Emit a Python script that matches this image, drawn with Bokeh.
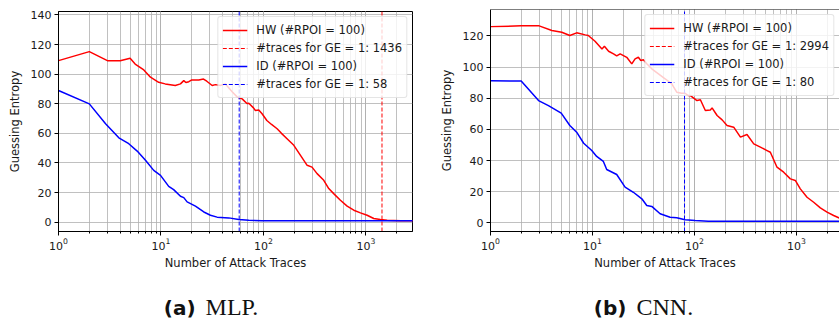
from bokeh.plotting import figure
from bokeh.models import (Range1d, Span, Legend, LegendItem, Div,
                          SingleIntervalTicker, LogTicker)
from bokeh.layouts import row, column
from bokeh.embed import file_html
from bokeh.resources import INLINE

# ---------------- data ----------------
# (a) MLP
mlp_hw_x = [1, 2, 3, 4, 5, 5.6, 6.8, 7.9, 9.5, 11, 13.8, 15.5, 16.7, 17.5, 18.7, 20,
            23.4, 26, 28, 31.6, 34, 38, 42.6, 49.5, 55, 58, 62, 69, 72, 80, 83.5, 90,
            97, 108, 120, 136, 150, 170, 198, 230, 267, 298, 334, 388, 434, 485, 564,
            656, 762, 885, 1028, 1193, 1384, 1611, 2173, 3000]
mlp_hw_y = [109.1, 115.2, 109.1, 109.1, 110.7, 106.8, 102.8, 97.9, 94.5, 93.4, 92.3,
            93.4, 95.6, 94.3, 94.9, 96.1, 96.1, 96.7, 95.2, 92.3, 92.9, 92.3, 93.4,
            88.1, 84.8, 84.0, 83.3, 80.2, 80.3, 77.2, 75.4, 75.8, 73.2, 68.7, 66.0,
            63.1, 60.0, 56.4, 51.9, 45.1, 38.4, 37.2, 32.8, 28.3, 22.7, 19.3, 14.8,
            10.8, 8.1, 6.3, 4.7, 2.5, 1.8, 1.3, 1.0, 1.0]
mlp_id_x = [1, 2, 2.88, 3.88, 4.85, 5.86, 7.06, 8.5, 9.9, 11.9, 13.3, 15.5, 16.7, 18,
            21.7, 26.2, 30.4, 35.3, 45.9, 57.4, 72, 97, 200, 3000]
mlp_id_y = [88.9, 79.9, 66.5, 57.0, 53.0, 48.0, 41.8, 35.0, 31.6, 24.2, 22.0, 17.5,
            16.6, 13.7, 10.8, 6.9, 4.7, 3.4, 2.9, 1.8, 1.3, 1.0, 1.0, 1.0]
mlp_thr_hw = 1436
mlp_thr_id = 58

# (b) CNN
cnn_hw_x = [1, 2, 3, 4, 5, 6, 7, 8.5, 9.1, 10.6, 12.4, 13.1, 14.4, 16.1, 17.3, 18.7,
            21.7, 24.3, 26.2, 28.2, 29.8, 31.6, 34.1, 38.2, 44.4, 51.6, 60, 67.1, 75,
            81, 87.3, 91.4, 106, 114.5, 128, 143.5, 149, 167, 187, 209, 243, 283, 328,
            382, 444, 516, 556, 646, 751, 874, 977, 1094, 1273, 1479, 1719, 2000,
            2323, 2603, 2994]
cnn_hw_y = [126.0, 126.5, 126.5, 123.5, 122.4, 120.3, 122.0, 120.7, 120.3, 116.6,
            111.7, 113.4, 110.2, 108.5, 107.2, 108.5, 106.3, 102.1, 105.3, 106.3,
            104.2, 104.7, 102.1, 98.9, 95.7, 92.5, 89.2, 83.9, 83.2, 83.2, 81.7, 81.7,
            78.5, 79.0, 72.1, 72.5, 73.8, 68.9, 66.1, 62.5, 61.4, 55.0, 56.7, 50.7,
            48.6, 46.4, 45.3, 35.7, 32.5, 28.2, 27.2, 21.8, 16.4, 13.2, 9.6, 6.8,
            4.7, 3.2, 1.0]
cnn_id_x = [1, 2, 2.96, 3.7, 4.94, 6.0, 7.0, 8.2, 9.85, 11, 12.8, 13.8, 17.3, 20.9,
            25.2, 30.5, 34.1, 38.2, 46.1, 57.8, 67.1, 81, 101.6, 137, 3000]
cnn_id_y = [91.3, 91.0, 78.5, 75.3, 70.4, 62.5, 58.2, 51.1, 46.4, 42.6, 39.4, 34.2,
            31.0, 22.9, 19.6, 15.4, 11.1, 10.5, 5.8, 3.6, 3.2, 1.9, 1.5, 1.0, 1.0]
cnn_thr_hw = 2994
cnn_thr_id = 80

hw_label = "HW (#RPOI = 100)"
id_label = "ID (#RPOI = 100)"
thr_label = "#traces for GE = 1: {}"
x_label = "Number of Attack Traces"
y_label = "Guessing Entropy"
captions = [("(a)", "MLP."), ("(b)", "CNN.")]

RED = "#ff0000"
BLUE = "#0000ff"
GRID = "#b0b0b0"
FONT = "DejaVu Sans"


def panel(hw_x, hw_y, id_x, id_y, thr_hw, thr_id, x_end, y_rng, width,
          b_left, b_right, b_top, outline=True):
    p = figure(width=width, height=272, x_axis_type="log",
               x_range=Range1d(1, x_end), y_range=Range1d(*y_rng),
               output_backend="svg", toolbar_location=None,
               min_border_left=b_left, min_border_right=b_right,
               min_border_top=b_top, min_border_bottom=41)
    p.background_fill_color = "white"
    p.outline_line_color = "black" if outline else None
    p.outline_line_width = 1

    # axes
    p.xaxis.ticker = LogTicker(num_minor_ticks=10)
    p.yaxis.ticker = SingleIntervalTicker(interval=20, num_minor_ticks=0)
    p.xaxis.axis_label = x_label
    p.yaxis.axis_label = y_label
    for ax in (p.xaxis[0], p.yaxis[0]):
        ax.axis_line_color = "black"
        ax.axis_line_width = 1
        ax.major_tick_out = 4
        ax.major_tick_in = 0
        ax.minor_tick_out = 2
        ax.minor_tick_in = 0
        ax.major_tick_line_color = "black"
        ax.minor_tick_line_color = "black"
        ax.major_label_text_font = FONT
        ax.major_label_text_font_size = "11px"
        ax.major_label_text_color = "#1a1a1a"
        ax.axis_label_text_font = FONT
        ax.axis_label_text_font_size = "11.5px"
        ax.axis_label_text_font_style = "normal"
        ax.axis_label_text_color = "#1a1a1a"
    p.yaxis.minor_tick_line_color = None
    p.xaxis.major_label_standoff = 2
    p.xaxis.axis_label_standoff = 3
    p.yaxis.major_label_standoff = 3
    p.yaxis.axis_label_standoff = 6

    # grid (major + minor on x, major on y)
    p.xgrid.grid_line_color = GRID
    p.xgrid.grid_line_width = 0.8
    p.xgrid.minor_grid_line_color = GRID
    p.xgrid.minor_grid_line_width = 0.8
    p.ygrid.grid_line_color = GRID
    p.ygrid.grid_line_width = 0.8

    if not outline:
        p.add_layout(Span(location=y_rng[1], dimension="width",
                          line_color="black", line_width=1))

    # curves and threshold lines (vertical lines span the whole y range)
    r_hw = p.line(hw_x, hw_y, line_color=RED, line_width=1.5)
    r_thw = p.line([thr_hw, thr_hw], list(y_rng), line_color=RED,
                   line_width=1, line_dash="4 2")
    r_id = p.line(id_x, id_y, line_color=BLUE, line_width=1.5)
    r_tid = p.line([thr_id, thr_id], list(y_rng), line_color=BLUE,
                   line_width=1, line_dash="4 2")

    legend = Legend(items=[
        LegendItem(label=hw_label, renderers=[r_hw]),
        LegendItem(label=thr_label.format(thr_hw), renderers=[r_thw]),
        LegendItem(label=id_label, renderers=[r_id]),
        LegendItem(label=thr_label.format(thr_id), renderers=[r_tid]),
    ], location="top_right")
    legend.label_text_font = FONT
    legend.label_text_font_size = "11.5px"
    legend.label_text_color = "#1a1a1a"
    legend.glyph_width = 25
    legend.glyph_height = 18
    legend.label_height = 18
    legend.spacing = 0
    legend.padding = 4
    legend.margin = 5
    legend.label_standoff = 9
    legend.border_line_color = "#cccccc"
    legend.border_line_width = 1
    legend.border_radius = 3
    legend.background_fill_color = "white"
    legend.background_fill_alpha = 0.8
    p.add_layout(legend)
    return p


p1 = panel(mlp_hw_x, mlp_hw_y, mlp_id_x, mlp_id_y, mlp_thr_hw, mlp_thr_id,
           2850, (-6.3, 142.3), 420, 58, 8, 11)
p2 = panel(cnn_hw_x, cnn_hw_y, cnn_id_x, cnn_id_y, cnn_thr_hw, cnn_thr_id,
           2650, (-5.6, 137.0), 419, 70, 0, 9, outline=False)


def caption(tag, name, width, pad_left, pad_right):
    html = (
        '<div style="width:%dpx; box-sizing:border-box; text-align:center; '
        'padding-top:27px; padding-left:%dpx; padding-right:%dpx; '
        'line-height:16px; white-space:nowrap; color:#111;">'
        '<span style="font-family:\'DejaVu Sans\'; font-weight:bold; font-size:20px;">%s</span>'
        '<span style="display:inline-block; width:10px;"></span>'
        '<span style="font-family:\'Liberation Serif\'; font-size:24px;">%s</span>'
        '</div>' % (width, pad_left, pad_right, tag, name)
    )
    return Div(text=html, width=width, height=50, margin=0)


d1 = caption(captions[0][0], captions[0][1], 420, 2, 0)
d2 = caption(captions[1][0], captions[1][1], 419, 28, 0)

layout = row(column(p1, d1, spacing=0), column(p2, d2, spacing=0), spacing=0)

with open("out.html", "w") as f:
    f.write(file_html(layout, INLINE))
